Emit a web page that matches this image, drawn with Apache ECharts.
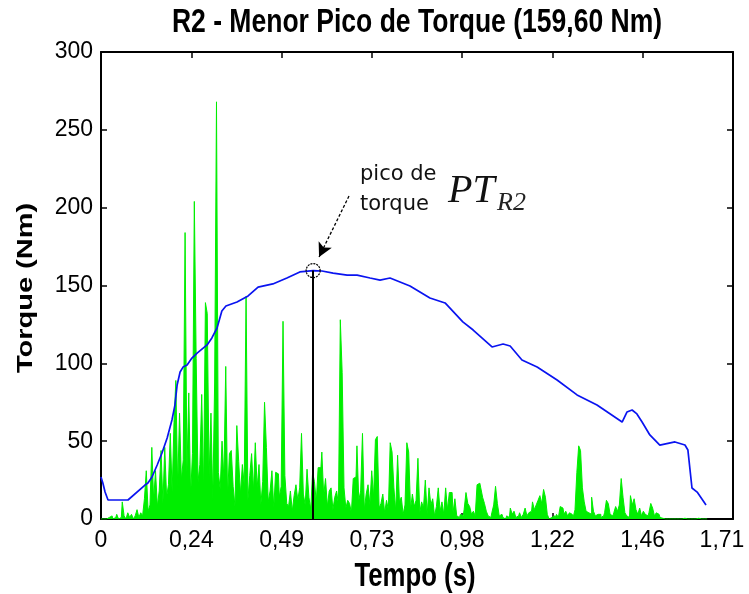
<!DOCTYPE html>
<html>
<head>
<meta charset="utf-8">
<script src="https://cdn.jsdelivr.net/npm/echarts@6/dist/echarts.min.js"></script>
<style>
    html, body { margin: 0; padding: 0; background: #fff; }
    #chart { width: 749px; height: 594px; }
</style>
</head>
<body>
<div id="chart"></div>
<script>
// eixo x: valores e rotulos dos ticks
var tickValues = [0, 0.2443, 0.4886, 0.7329, 0.9771, 1.2214, 1.4657, 1.71];
var tickLabels = ['0', '0,24', '0,49', '0,73', '0,98', '1,22', '1,46', '1,71'];

// torque (curva azul)
var torqueTime = [0.000, 0.005, 0.011, 0.019, 0.073, 0.119, 0.127, 0.138, 0.152, 0.165, 0.179, 0.192, 0.200, 0.206, 0.214, 0.222,
    0.233, 0.246, 0.260, 0.287, 0.300, 0.314, 0.327, 0.338, 0.368, 0.398, 0.425, 0.465, 0.503, 0.538, 0.574, 0.598,
    0.628, 0.666, 0.693, 0.728, 0.755, 0.782, 0.836, 0.890, 0.931, 0.979, 1.007, 1.058, 1.088, 1.107, 1.139, 1.180,
    1.234, 1.288, 1.342, 1.410, 1.423, 1.437, 1.450, 1.464, 1.485, 1.512, 1.553, 1.580, 1.588, 1.599, 1.613, 1.637];
var torqueValue = [27.0, 23.1, 17.3, 12.2, 12.2, 21.8, 23.1, 27.0, 34.7, 42.4, 52.0, 63.6, 73.2, 86.1, 94.4, 97.6,
    98.9, 103.4, 106.6, 111.8, 116.3, 122.7, 133.6, 136.8, 139.4, 143.3, 149.0, 151.0, 154.8, 158.7, 159.6, 159.3,
    158.0, 156.7, 156.7, 154.8, 153.5, 154.8, 149.7, 142.0, 138.8, 126.6, 121.4, 110.5, 112.4, 111.1, 102.1, 97.6,
    89.3, 79.7, 73.2, 62.3, 68.7, 70.0, 67.5, 62.3, 54.0, 47.5, 49.5, 47.5, 44.3, 19.9, 17.3, 9.0];

// sinal verde, uma amostra a cada emgStep segundos
var emgStep = 0.005;
var emgValues = [
    0, 0, 0.5, 0, 1, 0, 2, 0, 1, 3,
    0, 1, 11, 2, 0, 4, 1, 3, 0, 2,
    6, 1, 4, 2, 13, 31, 5, 9, 46, 12,
    31, 8, 18, 44, 10, 46, 14, 22, 55, 17,
    62, 89, 20, 68, 25, 38, 184, 30, 81, 15,
    42, 204, 103, 24, 35, 80, 18, 139, 132, 27,
    68, 12, 88, 268, 30, 19, 50, 26, 98, 14,
    42, 44, 21, 8, 60, 37, 16, 35, 22, 143,
    12, 28, 42, 18, 49, 20, 35, 9, 24, 75,
    46, 11, 18, 31, 7, 30, 29, 14, 21, 127,
    28, 10, 8, 18, 5, 15, 22, 12, 20, 55,
    16, 9, 32, 14, 6, 30, 24, 11, 33, 33,
    43, 15, 26, 8, 18, 20, 6, 14, 18, 9,
    128, 94, 20, 7, 12, 10, 4, 26, 27, 47,
    12, 18, 55, 6, 16, 22, 9, 31, 14, 51,
    53, 7, 10, 16, 4, 12, 6, 49, 43, 20,
    5, 41, 11, 14, 3, 9, 49, 43, 6, 16,
    8, 12, 39, 4, 11, 7, 25, 3, 20, 9,
    13, 2, 8, 20, 5, 11, 3, 20, 6, 17,
    17, 4, 13, 2, 1, 3, 2, 6, 17, 10,
    8, 3, 5, 2, 22, 23, 20, 14, 10, 5,
    2, 1, 4, 9, 21, 10, 2, 3, 1, 0,
    2, 1, 7, 3, 5, 1, 2, 4, 1, 3,
    7, 2, 4, 5, 11, 6, 9, 12, 15, 10,
    19, 14, 3, 0, 1, 2, 0, 3, 1, 8,
    7, 3, 5, 2, 4, 3, 1, 6, 30, 47,
    44, 20, 11, 5, 4, 3, 14, 5, 2, 3,
    3, 1, 2, 4, 12, 10, 3, 2, 4, 8,
    5, 9, 26, 14, 4, 2, 1, 15, 9, 13,
    6, 3, 7, 2, 5, 3, 2, 4, 10, 7,
    2, 4, 3, 1, 0.5, 0, 0.5, 0, 0, 0.5,
    0, 0, 0.5, 0, 0, 0, 0.5, 0, 0, 0,
    0, 0, 0, 0.5, 0, 0, 0, 0, 0
];

// pico de torque e seta da anotacao
var peakTime = 0.574;
var peakTorque = 159.6;
var arrowStart = [0.671, 207.5];
var arrowEnd = [0.590, 168.3];

var chart = echarts.init(document.getElementById('chart'));

var torqueData = torqueTime.map(function (t, i) {
    return [t, torqueValue[i]];
});
var emgData = emgValues.map(function (v, i) {
    return [i * emgStep, v];
});

var labelFont = "'Liberation Sans', Arial, sans-serif";
var boldFont = "'Liberation Sans', Arial, sans-serif";

var option = {
    backgroundColor: '#fff',
    animation: false,
    grid: { left: 101, right: 16, top: 52, bottom: 75, containLabel: false, outerBoundsMode: 'none' },
    xAxis: [
        {
            type: 'value',
            min: 0,
            max: 1.71,
            splitLine: { show: false },
            axisLine: { onZero: false, lineStyle: { color: '#000', width: 2 } },
            axisTick: { inside: true, length: 6, customValues: tickValues, lineStyle: { color: '#000', width: 1.5 } },
            axisLabel: {
                customValues: tickValues,
                margin: 10,
                color: '#000',
                fontFamily: labelFont,
                fontSize: 23,
                formatter: function (v) {
                    for (var i = 0; i < tickValues.length; i++) {
                        if (Math.abs(tickValues[i] - v) < 1e-6) {
                            // o ultimo rotulo fica um pouco para dentro, como no original
                            return i === tickValues.length - 1 ? '{last|' + tickLabels[i] + '}' : tickLabels[i];
                        }
                    }
                    return '';
                },
                rich: {
                    last: { fontFamily: labelFont, fontSize: 23, color: '#000', padding: [0, 22, 0, 0] }
                }
            }
        },
        {
            type: 'value',
            position: 'top',
            min: 0,
            max: 1.71,
            splitLine: { show: false },
            axisLine: { onZero: false, lineStyle: { color: '#000', width: 2 } },
            axisTick: { inside: true, length: 6, customValues: tickValues, lineStyle: { color: '#000', width: 1.5 } },
            axisLabel: { show: false }
        }
    ],
    yAxis: [
        {
            type: 'value',
            min: 0,
            max: 300,
            interval: 50,
            splitLine: { show: false },
            axisLine: { show: true, onZero: false, lineStyle: { color: '#000', width: 2 } },
            axisTick: { show: true, inside: true, length: 6, lineStyle: { color: '#000', width: 1.5 } },
            axisLabel: { margin: 8, color: '#000', fontFamily: labelFont, fontSize: 23 }
        },
        {
            type: 'value',
            position: 'right',
            min: 0,
            max: 300,
            interval: 50,
            splitLine: { show: false },
            axisLine: { show: true, onZero: false, lineStyle: { color: '#000', width: 2 } },
            axisTick: { show: true, inside: true, length: 6, lineStyle: { color: '#000', width: 1.5 } },
            axisLabel: { show: false }
        }
    ],
    series: [
        {
            name: 'EMG',
            type: 'line',
            data: emgData,
            step: 'middle',
            showSymbol: false,
            silent: true,
            lineStyle: { color: '#00ee00', width: 1 },
            areaStyle: { color: '#00ee00', opacity: 1 },
            z: 2
        },
        {
            name: 'Torque',
            type: 'line',
            data: torqueData,
            showSymbol: false,
            silent: true,
            lineStyle: { color: '#0a14f0', width: 1.7 },
            z: 3,
            markLine: {
                silent: true,
                animation: false,
                symbol: 'none',
                label: { show: false },
                data: [
                    [
                        { coord: [peakTime, 0], lineStyle: { color: '#000', width: 2, type: 'solid' } },
                        { coord: [peakTime, peakTorque] }
                    ],
                    [
                        { coord: arrowStart, symbol: 'none', lineStyle: { color: '#000', width: 1.3, type: [3, 2] } },
                        { coord: arrowEnd, symbol: 'arrow', symbolSize: [11, 14] }
                    ]
                ]
            },
            markPoint: {
                silent: true,
                animation: false,
                symbol: 'circle',
                symbolSize: 14,
                label: { show: false },
                itemStyle: { color: 'rgba(0,0,0,0)', borderColor: '#000', borderWidth: 1.2, borderType: [2, 1] },
                data: [{ coord: [peakTime, peakTorque] }]
            }
        }
    ],
    graphic: [
        {
            type: 'text', x: 417, y: 23, scaleX: 0.78,
            style: { text: 'R2 - Menor Pico de Torque (159,60 Nm)', font: 'bold 34px ' + boldFont, fill: '#000', textAlign: 'center', textVerticalAlign: 'middle' }
        },
        {
            type: 'text', x: 415, y: 577, scaleX: 0.78,
            style: { text: 'Tempo (s)', font: 'bold 33px ' + boldFont, fill: '#000', textAlign: 'center', textVerticalAlign: 'middle' }
        },
        {
            type: 'text', x: 26, y: 288, rotation: Math.PI / 2, scaleY: 0.78,
            style: { text: 'Torque (Nm)', font: 'bold 29px ' + boldFont, fill: '#000', textAlign: 'center', textVerticalAlign: 'middle' }
        },
        {
            type: 'text', x: 360, y: 175,
            style: { text: 'pico de', font: "21px 'DejaVu Sans', sans-serif", fill: '#111', textAlign: 'left', textVerticalAlign: 'middle' }
        },
        {
            type: 'text', x: 360, y: 205,
            style: { text: 'torque', font: "21px 'DejaVu Sans', sans-serif", fill: '#111', textAlign: 'left', textVerticalAlign: 'middle' }
        },
        {
            type: 'text', x: 448, y: 191,
            style: { text: 'PT', font: "italic 40px 'Liberation Serif', serif", fill: '#111', textAlign: 'left', textVerticalAlign: 'middle' }
        },
        {
            type: 'text', x: 497, y: 203,
            style: { text: 'R2', font: "italic 26px 'Liberation Serif', serif", fill: '#222', textAlign: 'left', textVerticalAlign: 'middle' }
        }
    ]
};

chart.setOption(option);
</script>
</body>
</html>
